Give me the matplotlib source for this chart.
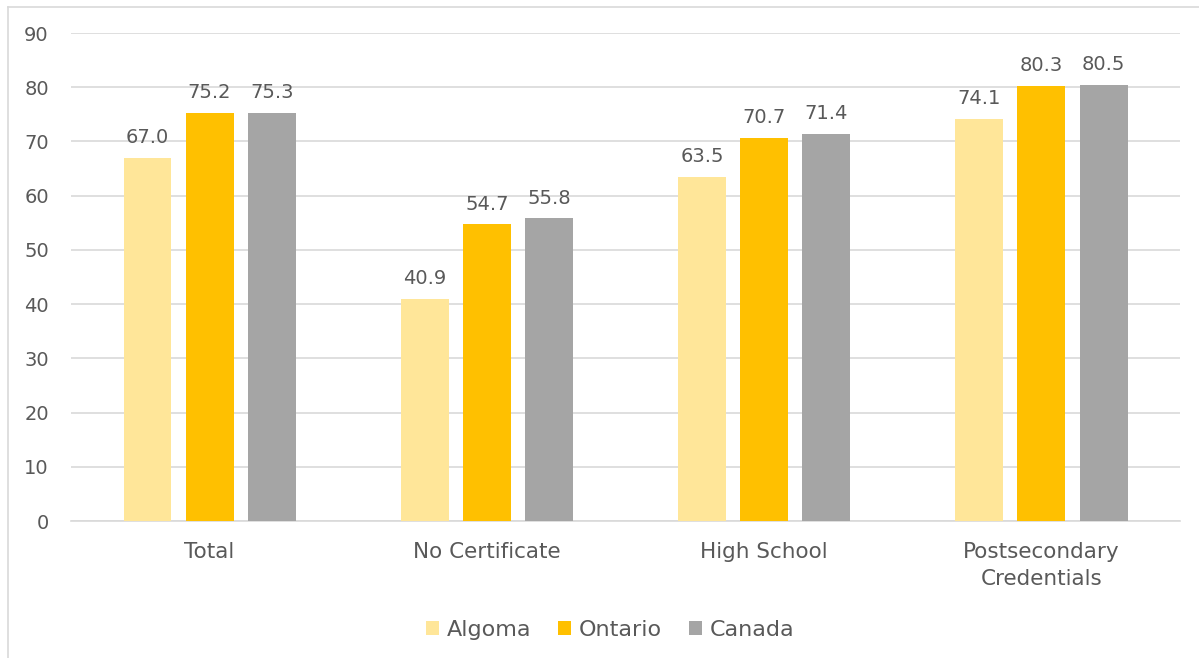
import matplotlib.pyplot as plt
import numpy as np
from matplotlib.lines import Line2D

categories = ['Total', 'No Certificate', 'High School', 'Postsecondary\nCredentials']
algoma = [67.0, 40.9, 63.5, 74.1]
ontario = [75.2, 54.7, 70.7, 80.3]
canada = [75.3, 55.8, 71.4, 80.5]

series = [('Algoma', algoma, '#FFE699'),
          ('Ontario', ontario, '#FFC000'),
          ('Canada', canada, '#A5A5A5')]

plt.rcParams['font.family'] = ['DejaVu Sans']
text_color = '#595959'

fig = plt.figure(figsize=(11.99, 6.58), dpi=100)
ax = fig.add_axes([0.0592, 0.2082, 0.925, 0.7416])

x = np.arange(len(categories))
width = 0.173
pitch = 0.224
for i, (name, vals, color) in enumerate(series):
    pos = x + (i - 1) * pitch
    bars = ax.bar(pos, vals, width, color=color, label=name, zorder=3)
    for b, v in zip(bars, vals):
        ax.text(b.get_x() + b.get_width() / 2, v + 2.0, f'{v:.1f}',
                ha='center', va='bottom', fontsize=14, color=text_color)

ax.set_xlim(-0.5, 3.5)
ax.set_ylim(0, 90)
ax.set_yticks(range(0, 91, 10))
ax.set_xticks(x)
ax.set_xticklabels(categories, fontsize=15.5, color=text_color, linespacing=1.45)
ax.tick_params(axis='y', labelsize=14, labelcolor=text_color, length=0, pad=16)
ax.tick_params(axis='x', length=0, pad=15)
ax.grid(axis='y', color='#D9D9D9', linewidth=1.2, zorder=0)
for side in ['top', 'right', 'left']:
    ax.spines[side].set_visible(False)
ax.spines['bottom'].set_color('#D9D9D9')
ax.spines['bottom'].set_linewidth(1.2)

leg = fig.legend(loc='center', bbox_to_anchor=(0.509, 0.043), ncol=3, frameon=False,
                 fontsize=16, handlelength=0.6, handleheight=0.6, handletextpad=0.35,
                 columnspacing=1.2)
for t in leg.get_texts():
    t.set_color(text_color)

# outer chart frame
fig.add_artist(Line2D([8 / 1199, 8 / 1199], [0, 1 - 7 / 658], color='#D9D9D9', lw=1.2))
fig.add_artist(Line2D([8 / 1199, 1], [1 - 7 / 658, 1 - 7 / 658], color='#D9D9D9', lw=1.2))

fig.savefig('out.png', dpi=100)
